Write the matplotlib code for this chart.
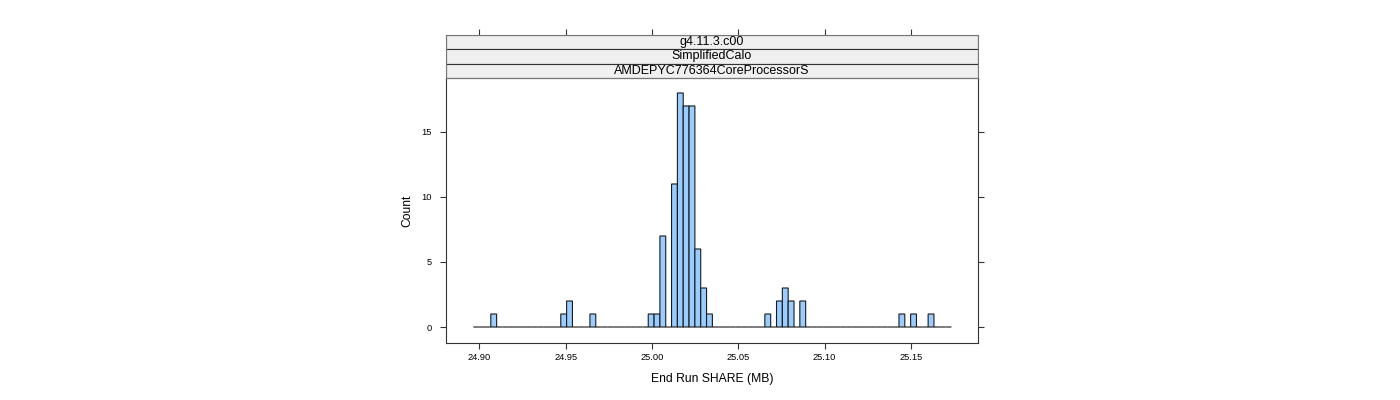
import matplotlib
matplotlib.use("Agg")
import matplotlib.pyplot as plt
from matplotlib.patches import Rectangle

plt.rcParams['font.family'] = ['Liberation Sans', 'DejaVu Sans']

# ---- data ----
bin_start = 24.89652
bin_width = 0.003378
counts = [0, 0, 0, 1, 0, 0, 0, 0, 0, 0, 0, 0, 0, 0, 0, 1, 2, 0, 0, 0,
          1, 0, 0, 0, 0, 0, 0, 0, 0, 0, 1, 1, 7, 0, 11, 18, 17, 17, 6, 3,
          1, 0, 0, 0, 0, 0, 0, 0, 0, 0, 1, 0, 2, 3, 2, 0, 2, 0, 0, 0,
          0, 0, 0, 0, 0, 0, 0, 0, 0, 0, 0, 0, 0, 1, 0, 1, 0, 0, 1, 0,
          0, 0]
xticks = [24.90, 24.95, 25.00, 25.05, 25.10, 25.15]
xtick_labels = ["24.90", "24.95", "25.00", "25.05", "25.10", "25.15"]
yticks = [0, 5, 10, 15]
strip_labels = ["g4.11.3.c00", "SimplifiedCalo", "AMDEPYC776364CoreProcessorS"]
xlabel = "End Run SHARE (MB)"
ylabel = "Count"

W, H = 1400, 400
fig = plt.figure(figsize=(W / 100, H / 100), dpi=100)

def fx(px):
    return px / W

def fy(py):
    return 1 - py / H

px_l, px_r, py_t, py_b = 446, 978, 78, 343
ax = fig.add_axes([fx(px_l), fy(py_b), fx(px_r - px_l), (py_b - py_t) / H])

edges = [bin_start + i * bin_width for i in range(len(counts))]
bars = ax.bar(edges, counts, width=bin_width, align='edge', color='#99CCFF',
              edgecolor='#1a1a1a', linewidth=0.8)
for b in bars:
    b.set_snap(False)

ax.set_xlim(24.8807, 25.1889)
ax.set_ylim(-1.23, 19.15)
ax.set_xticks(xticks)
ax.set_xticklabels(xtick_labels)
ax.set_yticks(yticks)
ax.tick_params(axis='both', labelsize=6.7, length=4, width=0.8, color='#333333')
ax.tick_params(axis='y', left=True, right=True, labelleft=True, pad=6)
ax.tick_params(axis='x', pad=3)
for s in ax.spines.values():
    s.set_color('#333333')
    s.set_linewidth(0.8)
ax.set_xlabel(xlabel, fontsize=8.7, labelpad=8)
ax.set_ylabel(ylabel, fontsize=8.7, labelpad=6)

# strips
sy_t = 35
sax = fig.add_axes([fx(px_l), fy(py_t), fx(px_r - px_l), (py_t - sy_t) / H])
sax.set_xlim(ax.get_xlim())
sax.set_ylim(0, 3)
sax.set_xticks(xticks)
sax.set_yticks([])
sax.tick_params(axis='x', top=True, bottom=False, labeltop=False,
                labelbottom=False, length=4, width=0.8, color='#333333')
for i, lab in enumerate(strip_labels):
    y0 = 2 - i
    sax.add_patch(Rectangle((0, y0 / 3), 1, 1 / 3, transform=sax.transAxes,
                            facecolor='#F0F0F0', edgecolor='#333333',
                            linewidth=0.8))
    sax.text(0.5, (y0 + 0.5) / 3, lab, transform=sax.transAxes,
             ha='center', va='center', fontsize=9, color='#000000')
for s in sax.spines.values():
    s.set_color('#777777')
    s.set_linewidth(0.8)

fig.savefig("out.png", dpi=100)
